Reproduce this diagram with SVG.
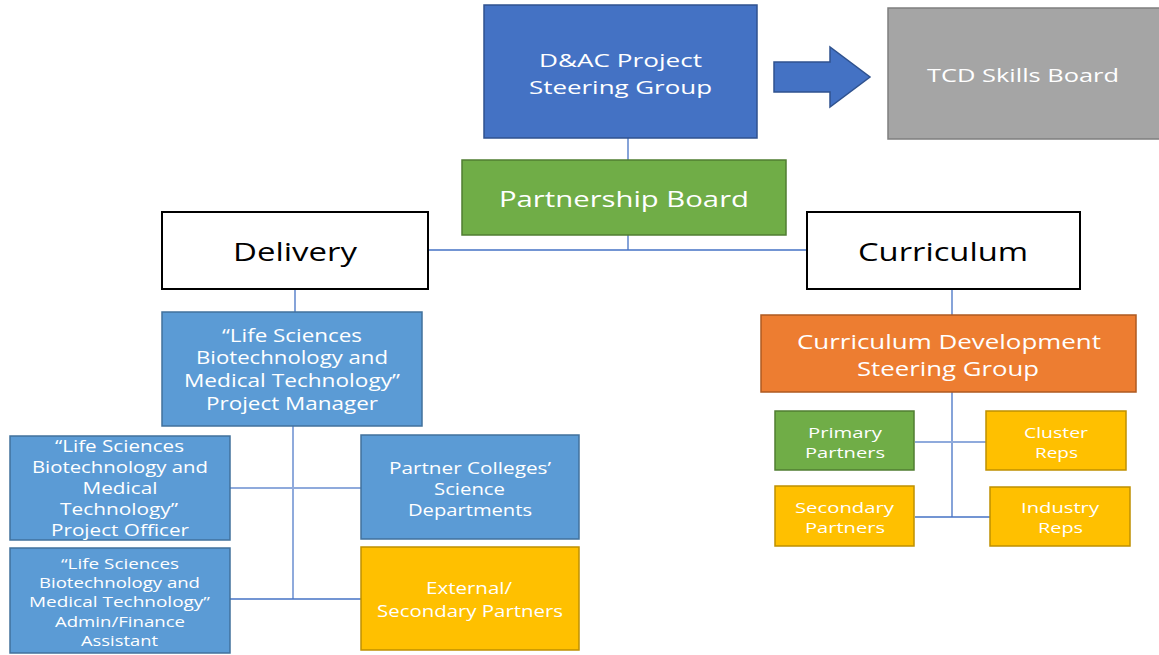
<svg xmlns="http://www.w3.org/2000/svg" width="1159" height="655" viewBox="0 0 1159 655">
  <style>
    text { font-family: "Open Sans", "Noto Sans", "DejaVu Sans", sans-serif; fill: #ffffff; text-anchor: middle; dominant-baseline: central; }
    .dark { fill: #000000; }
    .blue { fill: #4472C4; stroke: #2F528F; stroke-width: 1.5; }
    .lblue { fill: #5B9BD5; stroke: #41719C; stroke-width: 1.5; }
    .grey { fill: #A5A5A5; stroke: #7F7F7F; stroke-width: 1.5; }
    .green { fill: #70AD47; stroke: #507E32; stroke-width: 1.5; }
    .gold { fill: #FFC000; stroke: #BF9000; stroke-width: 1.5; }
    .orange { fill: #ED7D31; stroke: #AE5A21; stroke-width: 1.5; }
    .white { fill: #ffffff; stroke: #000000; stroke-width: 2; }
    .conn { stroke: #4472C4; stroke-width: 1.3; fill: none; }
    .conn-l { stroke: #8FAADC; stroke-width: 2; fill: none; }
  </style>

  <rect width="1159" height="655" fill="#ffffff"/>

  <!-- connectors -->
  <g id="connectors">
    <line class="conn" x1="628" y1="138" x2="628" y2="160"/>
    <line class="conn" x1="628" y1="235" x2="628" y2="250"/>
    <line class="conn" x1="429" y1="250" x2="807" y2="250"/>
    <line class="conn" x1="295" y1="289" x2="295" y2="312"/>
    <line class="conn-l" x1="293" y1="426" x2="293" y2="599"/>
    <line class="conn-l" x1="230" y1="488" x2="361" y2="488"/>
    <line class="conn" x1="230" y1="599" x2="361" y2="599"/>
    <line class="conn" x1="952" y1="289" x2="952" y2="315"/>
    <line class="conn" x1="952" y1="392" x2="952" y2="517"/>
    <line class="conn-l" x1="915" y1="442" x2="986" y2="442"/>
    <line class="conn" x1="915" y1="517" x2="990" y2="517"/>
    <!-- block arrow to the skills board -->
    <polygon class="blue" points="774,62 830,62 830,47 870,77 830,107 830,92 774,92"/>
  </g>

  <g id="steering-group">
    <rect class="blue" x="484" y="5" width="273" height="133"/>
    <text x="620.5" y="60" font-size="19" textLength="163" lengthAdjust="spacingAndGlyphs">D&amp;AC Project</text>
    <text x="620.5" y="87" font-size="19" textLength="183" lengthAdjust="spacingAndGlyphs">Steering Group</text>
  </g>

  <g id="skills-board">
    <rect class="grey" x="888" y="8" width="275" height="131"/>
    <text x="1023" y="75" font-size="19" textLength="192" lengthAdjust="spacingAndGlyphs">TCD Skills Board</text>
  </g>

  <g id="partnership-board">
    <rect class="green" x="462" y="160" width="324" height="75"/>
    <text x="624" y="199" font-size="21" textLength="250" lengthAdjust="spacingAndGlyphs">Partnership Board</text>
  </g>

  <g id="delivery">
    <rect class="white" x="162" y="212" width="266" height="77"/>
    <text class="dark" x="295" y="251" font-size="26" textLength="124" lengthAdjust="spacingAndGlyphs">Delivery</text>
  </g>

  <g id="curriculum">
    <rect class="white" x="807" y="212" width="273" height="77"/>
    <text class="dark" x="943" y="251" font-size="26" textLength="170" lengthAdjust="spacingAndGlyphs">Curriculum</text>
  </g>

  <g id="project-manager">
    <rect class="lblue" x="162" y="312" width="260" height="114"/>
    <text x="292" y="335" font-size="18" textLength="140" lengthAdjust="spacingAndGlyphs">“Life Sciences</text>
    <text x="292" y="357" font-size="18" textLength="192" lengthAdjust="spacingAndGlyphs">Biotechnology and</text>
    <text x="292" y="380" font-size="18" textLength="216" lengthAdjust="spacingAndGlyphs">Medical Technology”</text>
    <text x="292" y="403" font-size="18" textLength="172" lengthAdjust="spacingAndGlyphs">Project Manager</text>
  </g>

  <g id="project-officer">
    <rect class="lblue" x="10" y="436" width="220" height="104"/>
    <text x="119.5" y="446" font-size="15.5" textLength="129" lengthAdjust="spacingAndGlyphs">“Life Sciences</text>
    <text x="120" y="467" font-size="15.5" textLength="176" lengthAdjust="spacingAndGlyphs">Biotechnology and</text>
    <text x="120" y="488" font-size="15.5" textLength="75" lengthAdjust="spacingAndGlyphs">Medical</text>
    <text x="119" y="509" font-size="15.5" textLength="118" lengthAdjust="spacingAndGlyphs">Technology”</text>
    <text x="120" y="530" font-size="15.5" textLength="138" lengthAdjust="spacingAndGlyphs">Project Officer</text>
  </g>

  <g id="admin-assistant">
    <rect class="lblue" x="10" y="548" width="220" height="105"/>
    <text x="120" y="563" font-size="14" textLength="118" lengthAdjust="spacingAndGlyphs">“Life Sciences</text>
    <text x="119.5" y="582" font-size="14" textLength="161" lengthAdjust="spacingAndGlyphs">Biotechnology and</text>
    <text x="119.5" y="601" font-size="14" textLength="181" lengthAdjust="spacingAndGlyphs">Medical Technology”</text>
    <text x="120" y="621" font-size="14" textLength="130" lengthAdjust="spacingAndGlyphs">Admin/Finance</text>
    <text x="119.5" y="640" font-size="14" textLength="77" lengthAdjust="spacingAndGlyphs">Assistant</text>
  </g>

  <g id="partner-colleges">
    <rect class="lblue" x="361" y="435" width="218" height="104"/>
    <text x="470" y="467" font-size="17" textLength="162" lengthAdjust="spacingAndGlyphs">Partner Colleges’</text>
    <text x="469.5" y="488" font-size="17" textLength="71" lengthAdjust="spacingAndGlyphs">Science</text>
    <text x="470" y="509" font-size="17" textLength="124" lengthAdjust="spacingAndGlyphs">Departments</text>
  </g>

  <g id="external-partners">
    <rect class="gold" x="361" y="547" width="218" height="103"/>
    <text x="469" y="587" font-size="17" textLength="86" lengthAdjust="spacingAndGlyphs">External/</text>
    <text x="470" y="610" font-size="17" textLength="186" lengthAdjust="spacingAndGlyphs">Secondary Partners</text>
  </g>

  <g id="curriculum-steering">
    <rect class="orange" x="761" y="315" width="375" height="77"/>
    <text x="949" y="341" font-size="19.5" textLength="304" lengthAdjust="spacingAndGlyphs">Curriculum Development</text>
    <text x="948" y="368" font-size="19.5" textLength="182" lengthAdjust="spacingAndGlyphs">Steering Group</text>
  </g>

  <g id="primary-partners">
    <rect class="green" x="775" y="411" width="139" height="59"/>
    <text x="845" y="432" font-size="15" textLength="74" lengthAdjust="spacingAndGlyphs">Primary</text>
    <text x="845" y="452" font-size="15" textLength="80" lengthAdjust="spacingAndGlyphs">Partners</text>
  </g>

  <g id="cluster-reps">
    <rect class="gold" x="986" y="411" width="140" height="59"/>
    <text x="1056" y="432" font-size="15" textLength="64" lengthAdjust="spacingAndGlyphs">Cluster</text>
    <text x="1056.5" y="452" font-size="15" textLength="43" lengthAdjust="spacingAndGlyphs">Reps</text>
  </g>

  <g id="secondary-partners">
    <rect class="gold" x="775" y="486" width="139" height="60"/>
    <text x="844.5" y="507" font-size="15" textLength="99" lengthAdjust="spacingAndGlyphs">Secondary</text>
    <text x="845" y="527" font-size="15" textLength="80" lengthAdjust="spacingAndGlyphs">Partners</text>
  </g>

  <g id="industry-reps">
    <rect class="gold" x="990" y="487" width="140" height="59"/>
    <text x="1060" y="507" font-size="15" textLength="78" lengthAdjust="spacingAndGlyphs">Industry</text>
    <text x="1060.5" y="527" font-size="15" textLength="45" lengthAdjust="spacingAndGlyphs">Reps</text>
  </g>
</svg>
